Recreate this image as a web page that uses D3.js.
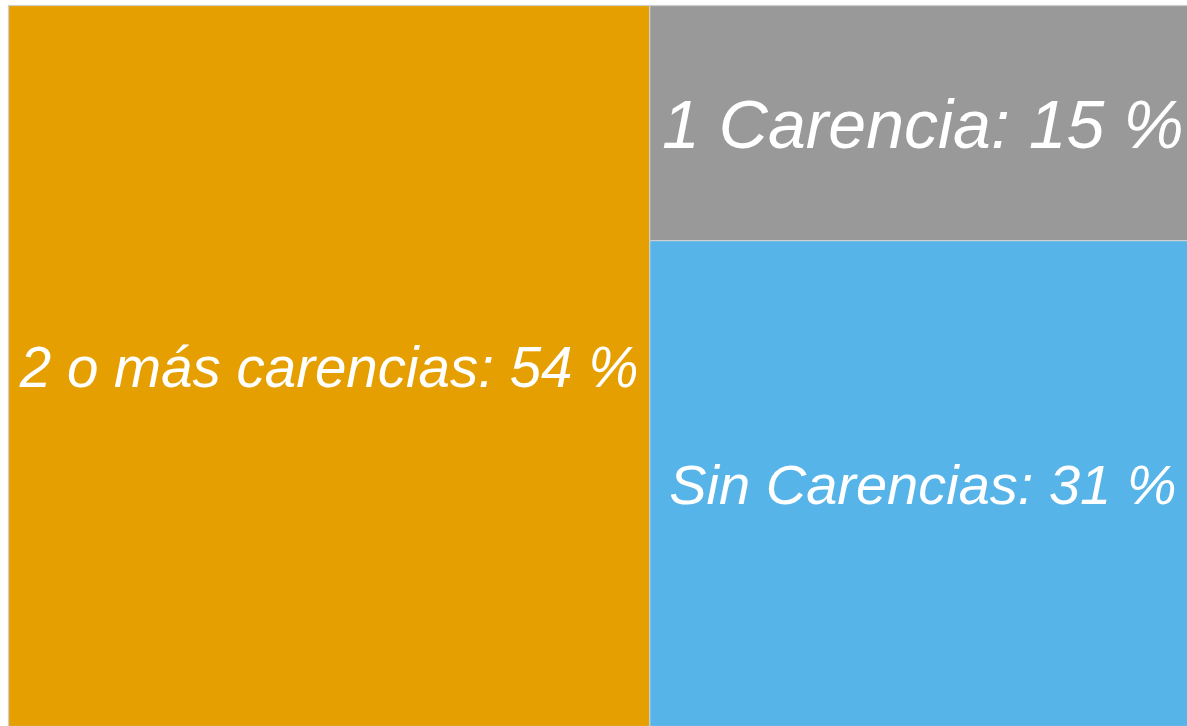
<!DOCTYPE html>
<html>
<head>
<meta charset="utf-8">
<script src="https://cdn.jsdelivr.net/npm/d3@7"></script>
<style>
  html, body { margin: 0; padding: 0; background: #fff; overflow: hidden; }
  svg { display: block; }
</style>
</head>
<body>
<svg id="chart"></svg>
<script>
// data
const categories = ['2 o más carencias', '1 Carencia', 'Sin Carencias'];
const values = [54, 15, 31];
const colors = ['#E69F00', '#999999', '#56B4E9'];

const width = 1187, height = 726;
// the treemap is wider than the window, its right edge is cut off
const box = {x0: 8.5, y0: 5.5, x1: 1196, y1: 726.5};
const labelSize = {'2 o más carencias': 56.5, '1 Carencia': 68, 'Sin Carencias': 56};

const svg = d3.select('#chart')
    .attr('width', width)
    .attr('height', height);

const chart = svg.append('g')
    .attr('transform', `translate(${box.x0}, ${box.y0})`);

const root = d3.hierarchy({
        children: categories.map((c, i) => ({name: c, value: values[i], color: colors[i]}))
    })
    .sum(d => d.value || 0);

// binary split: 54 on the left, 15 / 31 stacked on the right
d3.treemap()
    .tile(d3.treemapBinary)
    .size([box.x1 - box.x0, box.y1 - box.y0])
    .paddingInner(0)
    (root);

const cell = chart.selectAll('.cell')
    .data(root.leaves())
    .join('g').attr('class', 'cell');

cell.append('rect')
    .attr('x', d => d.x0)
    .attr('y', d => d.y0)
    .attr('width', d => d.x1 - d.x0)
    .attr('height', d => d.y1 - d.y0)
    .attr('fill', d => d.data.color)
    .attr('stroke', '#cfcfcf')
    .attr('stroke-width', 1.2);

cell.append('text')
    .attr('x', d => (d.x0 + d.x1) / 2)
    .attr('y', d => (d.y0 + d.y1) / 2)
    .attr('dy', '0.37em')
    .attr('text-anchor', 'middle')
    .attr('fill', '#fff')
    .style('font-family', '"Liberation Sans", Arial, sans-serif')
    .style('font-style', 'italic')
    .style('font-size', d => labelSize[d.data.name] + 'px')
    .text(d => `${d.data.name}: ${d.data.value} %`);
</script>
</body>
</html>
